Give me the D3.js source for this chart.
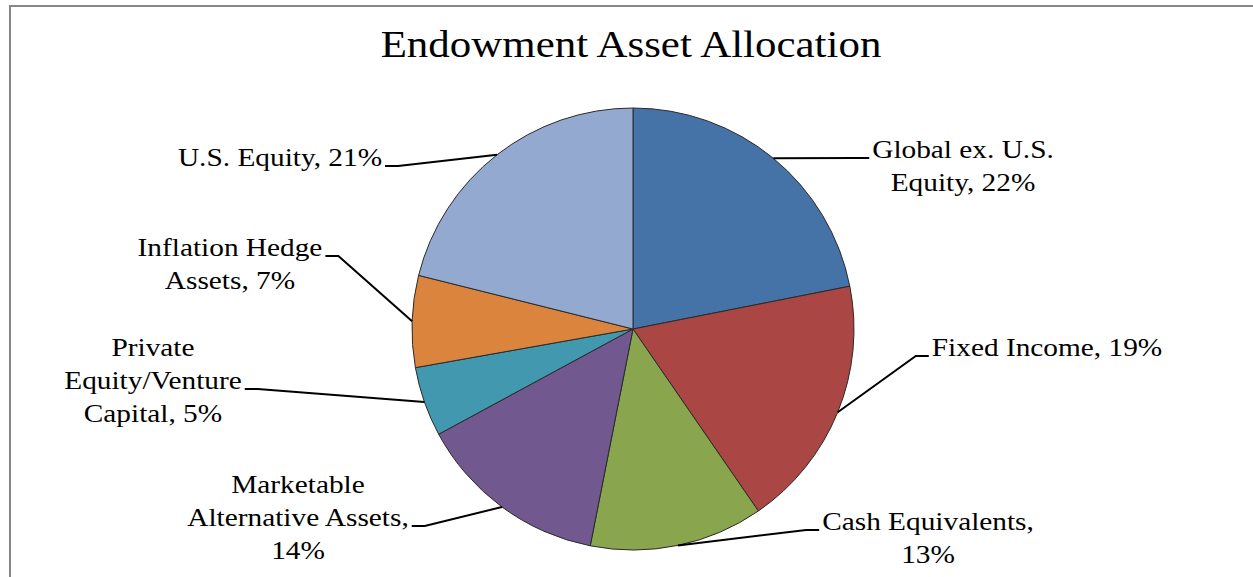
<!DOCTYPE html>
<html lang="en">
<head>
  <meta charset="UTF-8">
  <title>Endowment Asset Allocation</title>
  <script src="https://cdn.jsdelivr.net/npm/d3@7"></script>
  <style>
    html, body { margin: 0; padding: 0; background: #fff; }
    svg { display: block; }
    text { font-family: 'Liberation Serif', Tinos, 'Times New Roman', Times, 'DejaVu Serif', serif; fill: #000; }
  </style>
</head>
<body>
<div class="chart-area"></div>
<script>
  const categories = ['Global ex. U.S. Equity', 'Fixed Income', 'Cash Equivalents',
    'Marketable Alternative Assets', 'Private Equity/Venture Capital',
    'Inflation Hedge Assets', 'U.S. Equity']
  const values = [21.9, 18.5, 12.7, 14.0, 5.1, 6.7, 21.1]
  const colors = ['#4572a7', '#aa4643', '#89a54e', '#71588f', '#4198af', '#db843d', '#93a9cf']

  // label placement (center x, first baseline, words per line, line the leader hits, side)
  const labelLayout = [
    { x: 963, y: 158, breaks: [3, 2], hit: 0, side: 'left' },
    { x: 1047, y: 356, breaks: [3], hit: 0, side: 'left' },
    { x: 928, y: 530, breaks: [2, 1], hit: 0, side: 'left' },
    { x: 298, y: 493, breaks: [1, 2, 1], hit: 1, side: 'right' },
    { x: 153, y: 356, breaks: [1, 1, 2], hit: 1, side: 'right' },
    { x: 230, y: 256, breaks: [2, 2], hit: 0, side: 'right' },
    { x: 280, y: 166, breaks: [3], hit: 0, side: 'right' }
  ]

  const width = 1253,
    height = 577,
    cx = 633,
    cy = 329,
    radius = 221,
    lineH = 33,
    stretch = 1.15

  const svg = d3.select('.chart-area')
    .append('svg')
    .attr('width', width)
    .attr('height', height)

  // chart frame
  svg.append('rect')
    .attr('x', 10).attr('y', 6)
    .attr('width', width + 20).attr('height', height + 20)
    .attr('fill', '#fff')
    .attr('stroke', '#878787')
    .attr('stroke-width', 2)

  svg.append('g')
    .attr('transform', 'translate(631,57) scale(1.13,1)')
    .append('text')
    .attr('text-anchor', 'middle')
    .attr('font-size', 38)
    .text('Endowment Asset Allocation')

  const pie = d3.pie().sort(null).value(d => d)
  const arcs = pie(values)
  const arc = d3.arc().innerRadius(0).outerRadius(radius)

  const g = svg.append('g').attr('transform', `translate(${cx},${cy})`)

  g.selectAll('path.slice')
    .data(arcs)
    .enter()
    .append('path')
    .attr('class', 'slice')
    .attr('d', arc)
    .attr('fill', (d, i) => colors[i])
    .attr('stroke', '#2a2a2a')
    .attr('stroke-width', 1)

  const labels = svg.append('g').attr('class', 'labels')
  const leaders = svg.append('g').attr('class', 'leaders')

  arcs.forEach((d, i) => {
    const lay = labelLayout[i]
    const pct = Math.round(d.value / d3.sum(values) * 100)
    const words = `${categories[i]}, ${pct}%`.split(' ')
    const lines = []
    let k = 0
    lay.breaks.forEach(n => { lines.push(words.slice(k, k + n).join(' ')); k += n })

    const lg = labels.append('g')
      .attr('transform', `translate(${lay.x},0) scale(${stretch},1)`)
    const texts = lines.map((t, j) => lg.append('text')
      .attr('text-anchor', 'middle')
      .attr('font-size', 25.5)
      .attr('y', lay.y + j * lineH)
      .text(t))

    // leader line: slice edge at mid angle -> short elbow -> label edge
    const w = texts[lay.hit].node().getComputedTextLength() * stretch
    const dir = lay.side === 'left' ? -1 : 1
    const edge = lay.x + dir * (w / 2 + 3)
    const ly = lay.y + lay.hit * lineH
    const mid = (d.startAngle + d.endAngle) / 2
    const p0 = [cx + radius * Math.sin(mid), cy - radius * Math.cos(mid)]
    const pts = [p0, [edge + dir * 13, ly], [edge, ly]]

    leaders.append('path')
      .attr('d', d3.line()(pts))
      .attr('fill', 'none')
      .attr('stroke', '#000')
      .attr('stroke-width', 2)
  })
</script>
</body>
</html>
